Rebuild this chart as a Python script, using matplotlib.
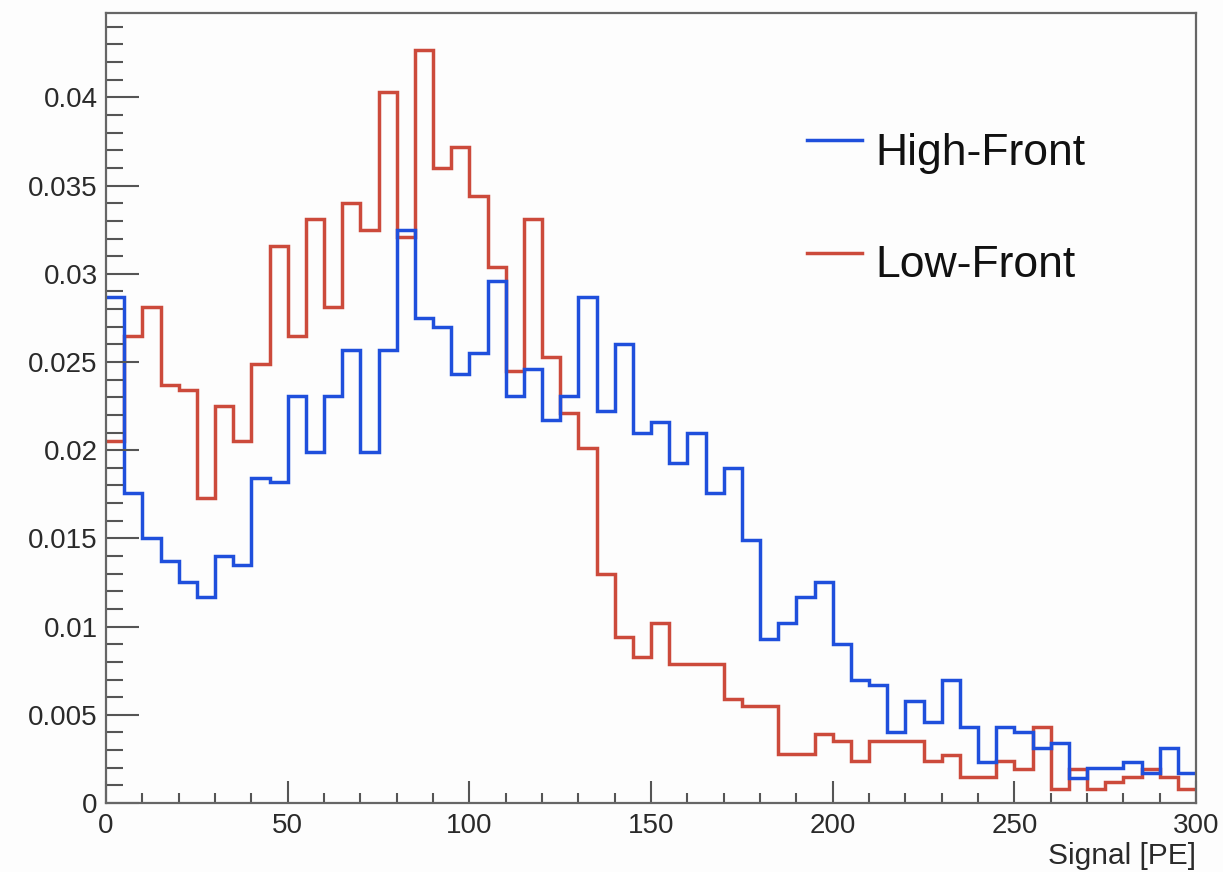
import numpy as np
import matplotlib.pyplot as plt
from matplotlib.ticker import MultipleLocator, FuncFormatter

plt.rcParams['font.family'] = ['Liberation Sans', 'DejaVu Sans']

# 60 bins of 5 PE from 0 to 300
bin_edges = np.arange(0, 301, 5)

high_front = [
    0.0287, 0.0176, 0.0150, 0.0137, 0.0125, 0.0117, 0.0140, 0.0135, 0.0184, 0.0182,
    0.0231, 0.0199, 0.0231, 0.0257, 0.0199, 0.0257, 0.0325, 0.0275, 0.0270, 0.0243,
    0.0255, 0.0296, 0.0231, 0.0246, 0.0217, 0.0231, 0.0287, 0.0222, 0.0260, 0.0210,
    0.0216, 0.0193, 0.0210, 0.0176, 0.0190, 0.0149, 0.0093, 0.0102, 0.0117, 0.0125,
    0.0090, 0.0070, 0.0067, 0.0040, 0.0058, 0.0046, 0.0070, 0.0043, 0.0023, 0.0043,
    0.0040, 0.0031, 0.0034, 0.0014, 0.0020, 0.0020, 0.0023, 0.0017, 0.0031, 0.0017,
]

low_front = [
    0.0205, 0.0265, 0.0281, 0.0237, 0.0234, 0.0173, 0.0225, 0.0205, 0.0249, 0.0316,
    0.0265, 0.0331, 0.0281, 0.0340, 0.0325, 0.0403, 0.0321, 0.0427, 0.0360, 0.0372,
    0.0344, 0.0304, 0.0245, 0.0331, 0.0253, 0.0221, 0.0201, 0.0130, 0.0094, 0.0083,
    0.0102, 0.0079, 0.0079, 0.0079, 0.0059, 0.0055, 0.0055, 0.0028, 0.0028, 0.0039,
    0.0035, 0.0024, 0.0035, 0.0035, 0.0035, 0.0024, 0.0027, 0.0015, 0.0015, 0.0024,
    0.0019, 0.0043, 0.0008, 0.0019, 0.0008, 0.0012, 0.0015, 0.0019, 0.0015, 0.0008,
]

labels = ["High-Front", "Low-Front"]
colors = ["#1f4fdc", "#cc4a3b"]

fig = plt.figure(figsize=(12.23, 8.72), dpi=100, facecolor="#fdfdfd")
ax = fig.add_axes([106 / 1223, 1 - 803 / 872, 1090 / 1223, 790.3 / 872])
ax.set_facecolor("#fdfdfd")

ax.stairs(low_front, bin_edges, baseline=None, color=colors[1], linewidth=2.5)
ax.stairs(high_front, bin_edges, baseline=None, color=colors[0], linewidth=2.5)

ax.set_xlim(0, 300)
ax.set_ylim(0, 0.0448)

ax.xaxis.set_major_locator(MultipleLocator(50))
ax.xaxis.set_minor_locator(MultipleLocator(10))
ax.yaxis.set_major_locator(MultipleLocator(0.005))
ax.yaxis.set_minor_locator(MultipleLocator(0.001))
ax.yaxis.set_major_formatter(FuncFormatter(lambda v, p: "%g" % round(v, 4)))

ax.tick_params(axis="both", which="both", direction="in", color="#555555",
               labelcolor="#2a2a2a", labelsize=20, width=1.5)
ax.tick_params(axis="y", which="major", length=24, pad=6)
ax.tick_params(axis="y", which="minor", length=12)
ax.tick_params(axis="x", which="major", length=16, pad=7)
ax.tick_params(axis="x", which="minor", length=7.5)

for s in ax.spines.values():
    s.set_color("#666666")
    s.set_linewidth(1.6)

ax.set_xlabel("Signal [PE]", loc="right", fontsize=21.5, color="#2a2a2a", labelpad=2)

# legend drawn by hand, ROOT style (no frame)
for i, (lab, col) in enumerate(zip(labels, colors)):
    ly = [0.839, 0.696][i]
    ty = [0.8073, 0.6656][i]
    ax.plot([0.643, 0.6936], [ly, ly], transform=ax.transAxes, color=col, linewidth=2.5)
    ax.text(0.7055, ty, lab, transform=ax.transAxes, fontsize=32, va="baseline",
            color="#111111")

fig.savefig("out.png", dpi=100, facecolor=fig.get_facecolor())
